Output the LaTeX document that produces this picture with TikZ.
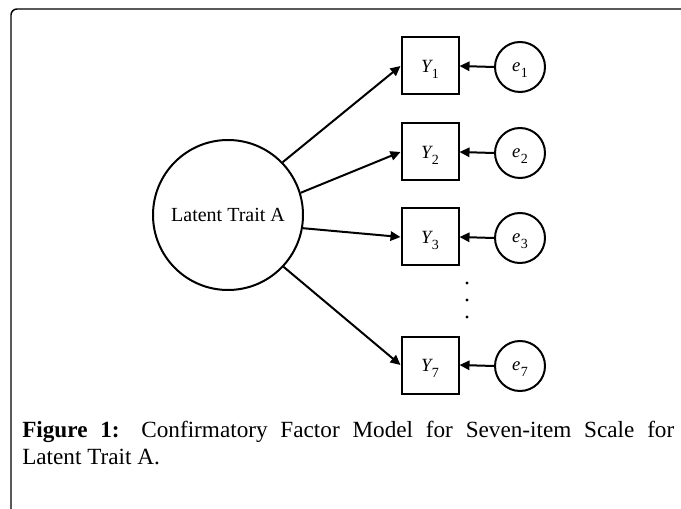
\documentclass[tikz,border=0pt]{standalone}
\usepackage{fontspec}
\setmainfont{Liberation Serif}
\usetikzlibrary{arrows.meta}
\newcommand{\mylab}[2]{{\itshape #1}\kern0.4pt\raisebox{-0.32em}[0pt][0pt]{\fontsize{10.5}{11}\selectfont #2}}
\begin{document}
\begin{tikzpicture}[x=0.75pt,y=-0.75pt,
  lat/.style={draw,circle,line width=1.5pt,minimum size=112.5pt,inner sep=0pt,font=\fontsize{15}{17}\selectfont},
  obs/.style={draw,rectangle,line width=1.5pt,minimum size=42.75pt,inner sep=0pt,font=\fontsize{14}{16}\selectfont},
  err/.style={draw,circle,line width=1.5pt,minimum size=37.5pt,inner sep=0pt,font=\fontsize{14}{16}\selectfont},
  arr/.style={line width=1.5pt,-{Triangle[length=7.5pt,width=7pt]}},
  dotmark/.style={fill,circle,inner sep=0pt,minimum size=2.6pt},
  frame/.style={line width=1.1pt,rounded corners=4.5pt}]
\useasboundingbox (0,0) rectangle (681,509);
\clip (0,0) rectangle (681,509);
\draw[frame] (11,530) -- (11,9) -- (700,9);
\node[lat] (A) at (228,215) {Latent Trait A};
\node[obs] (Y1) at (430,66) {\mylab{Y}{1}};
\node[obs] (Y2) at (430,152) {\mylab{Y}{2}};
\node[obs] (Y3) at (430,237) {\mylab{Y}{3}};
\node[obs] (Y7) at (430,365) {\mylab{Y}{7}};
\node[err] (e1) at (520,67) {\mylab{e}{1}};
\node[err] (e2) at (520,153) {\mylab{e}{2}};
\node[err] (e3) at (520,238) {\mylab{e}{3}};
\node[err] (e7) at (520,366) {\mylab{e}{7}};
\node[dotmark] (d1) at (467,283) {};
\node[dotmark] (d2) at (467,300) {};
\node[dotmark] (d3) at (467,317) {};
\draw[arr] (A.44) -- (Y1.west);
\draw[arr] (A.17) -- (Y2.west);
\draw[arr] (A.-10) -- (Y3.west);
\draw[arr] (A.-43) -- (Y7.west);
\draw[arr] (e1.west) -- (Y1.east);
\draw[arr] (e2.west) -- (Y2.east);
\draw[arr] (e3.west) -- (Y3.east);
\draw[arr] (e7.west) -- (Y7.east);
\node[anchor=base west,inner sep=0pt,text width=489pt,align=justify,
  font=\fontsize{17.4}{20.5}\selectfont] (cap) at (22,437)
  {\textbf{Figure 1:} Confirmatory Factor Model for Seven-item Scale for\linebreak Latent Trait A.};
\end{tikzpicture}
\end{document}
